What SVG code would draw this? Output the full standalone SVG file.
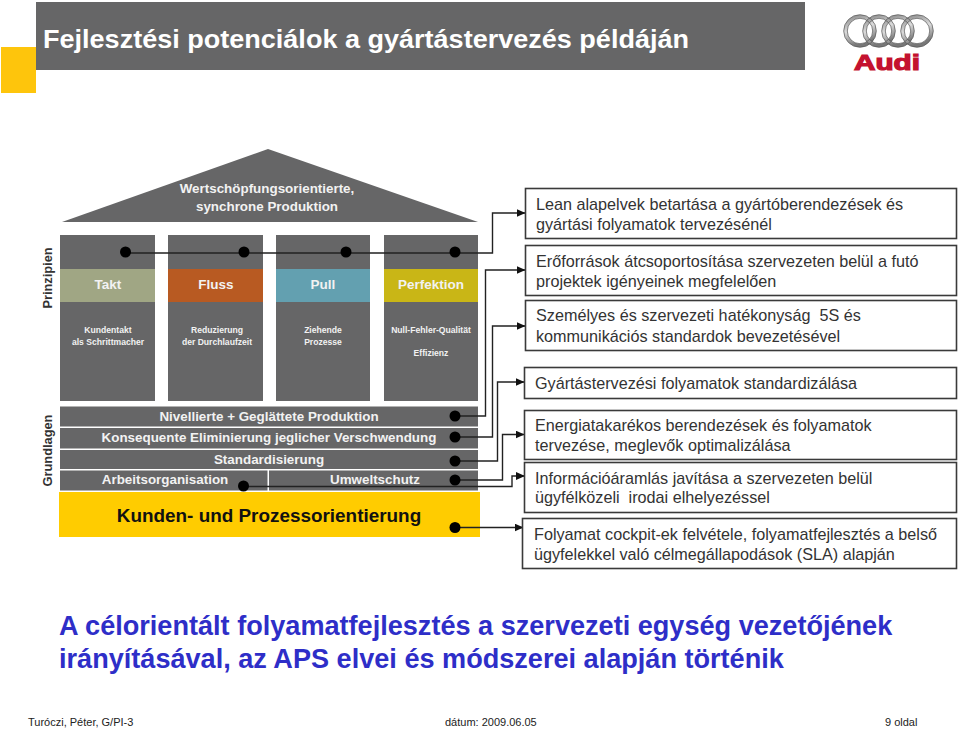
<svg xmlns="http://www.w3.org/2000/svg" width="960" height="729" viewBox="0 0 960 729">
<style>
text{font-family:"Liberation Sans",Arial,sans-serif}
.g{fill:#666667}
.w{fill:#f2f2f2;font-weight:bold;text-anchor:middle}
.m{font-size:13.4px}
.p{font-size:13.5px}
.s{font-size:8.6px}
.b{fill:#fff;stroke:#3a3a3a;stroke-width:1.6}
.t{fill:#333;font-size:16.2px;white-space:pre}
.h{fill:#2e2ec8;font-size:27.1px;font-weight:bold}
.f{fill:#222;font-size:11px}
.c{fill:none;stroke:#222;stroke-width:1.4}
.ring{fill:none;stroke:url(#silver);stroke-width:3.6}
.ringo{fill:none;stroke:#555;stroke-width:.7}
</style>
<defs>
<marker id="arr" markerUnits="userSpaceOnUse" markerWidth="10" markerHeight="10" refX="8.5" refY="4" orient="auto"><path d="M0 0L9 4L0 8Z" fill="#111"/></marker>
<linearGradient id="silver" x1="0" y1="0" x2="0.3" y2="1"><stop offset="0" stop-color="#8a8a8a"/><stop offset=".5" stop-color="#dcdcdc"/><stop offset="1" stop-color="#777"/></linearGradient>
</defs>
<rect width="960" height="729" fill="#fff"/>
<g id="header">
<rect x="1" y="47" width="35" height="46" fill="#fec50c"/>
<rect x="36" y="2" width="769" height="68" fill="#666667"/>
<text x="43" y="48" fill="#fff" font-size="25.500" font-weight="bold" textLength="646" lengthAdjust="spacingAndGlyphs">Fejlesztési potenciálok a gyártástervezés példáján</text>
</g>
<g id="logo">
<circle class="ring" cx="860" cy="31" r="14.500"/>
<circle class="ring" cx="879" cy="31" r="14.500"/>
<circle class="ring" cx="898" cy="31" r="14.500"/>
<circle class="ring" cx="917" cy="31" r="14.500"/>
<circle class="ringo" cx="860" cy="31" r="16.300"/><circle class="ringo" cx="860" cy="31" r="12.700"/>
<circle class="ringo" cx="879" cy="31" r="16.300"/><circle class="ringo" cx="879" cy="31" r="12.700"/>
<circle class="ringo" cx="898" cy="31" r="16.300"/><circle class="ringo" cx="898" cy="31" r="12.700"/>
<circle class="ringo" cx="917" cy="31" r="16.300"/><circle class="ringo" cx="917" cy="31" r="12.700"/>
<text x="854" y="70" fill="#c4122f" font-size="22.500" font-weight="900" stroke="#c4122f" stroke-width="1.200" textLength="66" lengthAdjust="spacingAndGlyphs">Audi</text>
</g>
<g id="house">
<path class="g" d="M62 222L268 149L478 222Z"/>
<text class="w m" x="267" y="193">Wertschöpfungsorientierte,</text>
<text class="w m" x="267" y="211">synchrone Produktion</text>
<text x="51.500" y="278" transform="rotate(-90 51.500 278)" text-anchor="middle" font-size="12.800" font-weight="bold" fill="#333">Prinzipien</text>
<text x="51.500" y="450.500" transform="rotate(-90 51.500 450.500)" text-anchor="middle" font-size="12.800" font-weight="bold" fill="#333">Grundlagen</text>
</g>
<g id="takt">
<rect class="g" x="60" y="235" width="95" height="166"/>
<rect x="60" y="269" width="95" height="33" fill="#a0a684"/>
<text class="w p" x="108" y="289">Takt</text>
<text class="w s" x="108" y="333">Kundentakt</text>
<text class="w s" x="108" y="345">als Schrittmacher</text>
</g>
<g id="fluss">
<rect class="g" x="168" y="235" width="95" height="166"/>
<rect x="168" y="269" width="95" height="33" fill="#b85a22"/>
<text class="w p" x="216" y="289">Fluss</text>
<text class="w s" x="217" y="333">Reduzierung</text>
<text class="w s" x="217" y="345">der Durchlaufzeit</text>
</g>
<g id="pull">
<rect class="g" x="276" y="235" width="94" height="166"/>
<rect x="276" y="269" width="94" height="33" fill="#63a0b0"/>
<text class="w p" x="323" y="289">Pull</text>
<text class="w s" x="323" y="333">Ziehende</text>
<text class="w s" x="323" y="345">Prozesse</text>
</g>
<g id="perfektion">
<rect class="g" x="384" y="235" width="94" height="166"/>
<rect x="384" y="269" width="94" height="33" fill="#c9b616"/>
<text class="w p" x="431" y="289">Perfektion</text>
<text class="w s" x="431" y="333">Null-Fehler-Qualität</text>
<text class="w s" x="431" y="356">Effizienz</text>
</g>
<g id="nivellierte">
<rect class="g" x="60" y="406.500" width="418" height="20"/>
<text class="w m" x="269" y="421">Nivellierte + Geglättete Produktion</text>
</g>
<g id="konsequente">
<rect class="g" x="60" y="428" width="418" height="20.500"/>
<text class="w m" x="269" y="442">Konsequente Eliminierung jeglicher Verschwendung</text>
</g>
<g id="standardisierung">
<rect class="g" x="60" y="450" width="418" height="19"/>
<text class="w m" x="269" y="463.500">Standardisierung</text>
</g>
<g id="arbeitsorganisation">
<rect class="g" x="60" y="470.500" width="207.500" height="20"/>
<text class="w m" x="165" y="484">Arbeitsorganisation</text>
</g>
<g id="umweltschutz">
<rect class="g" x="269" y="470.500" width="209" height="20"/>
<text class="w m" x="375" y="484">Umweltschutz</text>
</g>
<g id="kunden">
<rect x="59" y="492" width="421" height="45" fill="#fc0"/>
<text x="269" y="522" text-anchor="middle" font-size="18.900" font-weight="bold" fill="#111">Kunden- und Prozessorientierung</text>
</g>
<g id="connectors">
<path class="c" d="M125.500 253H492.500V213H525" marker-end="url(#arr)"/>
<path class="c" d="M455 416H485.500V270H525" marker-end="url(#arr)"/>
<path class="c" d="M455 437H492.500V326H525" marker-end="url(#arr)"/>
<path class="c" d="M455 461H497.500V382H524" marker-end="url(#arr)"/>
<path class="c" d="M455 480H502.500V434.500H524" marker-end="url(#arr)"/>
<path class="c" d="M243 486.500H512V476H524.500" marker-end="url(#arr)"/>
<path class="c" d="M455 527.500H523" marker-end="url(#arr)"/>
<g fill="#000">
<circle cx="125.500" cy="252" r="5.500"/><circle cx="244" cy="252" r="5.500"/><circle cx="346" cy="252" r="5.500"/><circle cx="455" cy="252" r="5.500"/>
<circle cx="455" cy="416" r="5.500"/><circle cx="455" cy="437" r="5.500"/><circle cx="455" cy="461" r="5.500"/><circle cx="455" cy="480" r="5.500"/><circle cx="243.500" cy="486" r="5.500"/><circle cx="455" cy="527.500" r="5.500"/>
</g>
</g>
<g id="box1"><rect class="b" x="525.500" y="188.500" width="431" height="50"/><text class="t" x="536" y="210">Lean alapelvek betartása a gyártóberendezések és</text><text class="t" x="536" y="230">gyártási folyamatok tervezésénél</text></g>
<g id="box2"><rect class="b" x="525.500" y="245.500" width="431" height="50"/><text class="t" x="536" y="267">Erőforrások átcsoportosítása szervezeten belül a futó</text><text class="t" x="536" y="287">projektek igényeinek megfelelően</text></g>
<g id="box3"><rect class="b" x="525.500" y="300.500" width="431" height="50"/><text class="t" x="536" y="321">Személyes és szervezeti hatékonyság  5S és</text><text class="t" x="536" y="342">kommunikációs standardok bevezetésével</text></g>
<g id="box4"><rect class="b" x="524.500" y="367.500" width="432" height="31"/><text class="t" x="535" y="389">Gyártástervezési folyamatok standardizálása</text></g>
<g id="box5"><rect class="b" x="524.500" y="410.500" width="432" height="49"/><text class="t" x="535" y="431">Energiatakarékos berendezések és folyamatok</text><text class="t" x="535" y="451">tervezése, meglevők optimalizálása</text></g>
<g id="box6"><rect class="b" x="524.500" y="462.500" width="432" height="50"/><text class="t" x="535" y="484">Információáramlás javítása a szervezeten belül</text><text class="t" x="535" y="503">ügyfélközeli  irodai elhelyezéssel</text></g>
<g id="box7"><rect class="b" x="522.500" y="518.500" width="434" height="50"/><text class="t" x="534" y="540">Folyamat cockpit-ek felvétele, folyamatfejlesztés a belső</text><text class="t" x="534" y="560">ügyfelekkel való célmegállapodások (SLA) alapján</text></g>
<g id="summary">
<text class="h" x="59" y="635">A célorientált folyamatfejlesztés a szervezeti egység vezetőjének</text>
<text class="h" x="59" y="668">irányításával, az APS elvei és módszerei alapján történik</text>
</g>
<g id="footer">
<text class="f" x="28" y="726">Turóczi, Péter, G/PI-3</text>
<text class="f" x="445" y="726">dátum: 2009.06.05</text>
<text class="f" x="885" y="726">9 oldal</text>
</g>
</svg>
